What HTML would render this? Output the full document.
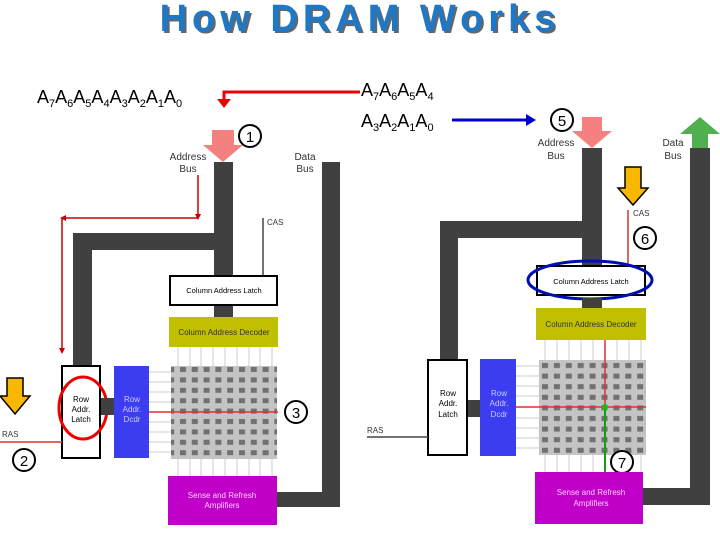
<!DOCTYPE html>
<html><head><meta charset="utf-8"><style>
body{margin:0;background:#fff;width:720px;height:540px;overflow:hidden}
svg{display:block;font-family:"Liberation Sans",sans-serif}
</style></head><body>
<svg width="720" height="540" viewBox="0 0 720 540">
<defs>
<pattern id="g" x="0" y="0" width="11.8" height="10.4" patternUnits="userSpaceOnUse">
<rect width="11.8" height="10.4" fill="#c4c4c4"/><rect x="3" y="3" width="6" height="5" fill="#707070"/>
</pattern>
<pattern id="g2" x="539" y="360" width="11.9" height="10.6" patternUnits="userSpaceOnUse">
<rect width="11.9" height="10.6" fill="#c4c4c4"/><rect x="3" y="3" width="6" height="5" fill="#707070"/>
</pattern>
</defs>
<text x="362" y="33" text-anchor="middle" font-size="38" font-weight="bold" fill="#666" letter-spacing="5">How DRAM Works</text>
<text x="360" y="31" text-anchor="middle" font-size="38" font-weight="bold" fill="#1e78c8" letter-spacing="5">How DRAM Works</text>

<text x="37" y="103" font-size="18">A<tspan font-size="11" dy="4">7</tspan><tspan dy="-4">A</tspan><tspan font-size="11" dy="4">6</tspan><tspan dy="-4">A</tspan><tspan font-size="11" dy="4">5</tspan><tspan dy="-4">A</tspan><tspan font-size="11" dy="4">4</tspan><tspan dy="-4">A</tspan><tspan font-size="11" dy="4">3</tspan><tspan dy="-4">A</tspan><tspan font-size="11" dy="4">2</tspan><tspan dy="-4">A</tspan><tspan font-size="11" dy="4">1</tspan><tspan dy="-4">A</tspan><tspan font-size="11" dy="4">0</tspan></text>
<text x="361" y="96" font-size="18">A<tspan font-size="11" dy="4">7</tspan><tspan dy="-4">A</tspan><tspan font-size="11" dy="4">6</tspan><tspan dy="-4">A</tspan><tspan font-size="11" dy="4">5</tspan><tspan dy="-4">A</tspan><tspan font-size="11" dy="4">4</tspan></text>
<text x="361" y="127" font-size="18">A<tspan font-size="11" dy="4">3</tspan><tspan dy="-4">A</tspan><tspan font-size="11" dy="4">2</tspan><tspan dy="-4">A</tspan><tspan font-size="11" dy="4">1</tspan><tspan dy="-4">A</tspan><tspan font-size="11" dy="4">0</tspan></text>

<polyline points="360,92 224,92 224,100" fill="none" stroke="#e00" stroke-width="3"/>
<polygon points="217,99 231,99 224,108" fill="#e00"/>
<line x1="452" y1="120" x2="528" y2="120" stroke="#0000cc" stroke-width="3"/>
<polygon points="526,114 536,120 526,126" fill="#0000cc"/>

<g>
<path d="M214,162 H233 V275 H214 V250 H92 V366 H73 V233 H214 Z" fill="#404040"/>
<path d="M322,162 H340 V507 H277 V492 H322 Z" fill="#404040"/>
<polygon points="212,130 234,130 234,145 243,145 223,162 203,145 212,145" fill="#f48080"/>
<circle cx="250" cy="136" r="11" fill="#fff" stroke="#000" stroke-width="2"/><text x="250" y="142" font-size="15" text-anchor="middle">1</text>
<text x="188" y="160" font-size="10" text-anchor="middle" fill="#333">Address</text><text x="188" y="172" font-size="10" text-anchor="middle" fill="#333">Bus</text>
<text x="305" y="160" font-size="10" text-anchor="middle" fill="#333">Data</text><text x="305" y="172" font-size="10" text-anchor="middle" fill="#333">Bus</text>
<polyline points="198,175 198,218 62,218 62,350" fill="none" stroke="#c00" stroke-width="1.5"/>
<polygon points="195,214 201,214 198,220" fill="#c00"/><polygon points="66,215 66,221 60,218" fill="#c00"/><polygon points="59,348 65,348 62,354" fill="#c00"/>
<line x1="263" y1="218" x2="263" y2="275" stroke="#444" stroke-width="1.5"/><text x="267" y="225" font-size="8" fill="#333">CAS</text>
<rect x="170" y="276" width="107" height="29" fill="#fff" stroke="#000" stroke-width="2"/>
<text x="224" y="293" font-size="7.5" text-anchor="middle">Column Address Latch</text>
<rect x="214" y="306" width="19" height="12" fill="#404040"/>
<rect x="169" y="317" width="109" height="30" fill="#c0c000"/>
<text x="224" y="335" font-size="8" text-anchor="middle" fill="#333">Column Address Decoder</text>
<g stroke="#ddd" stroke-width="1.5"><line x1="178" y1="347" x2="178" y2="366"/><line x1="190" y1="347" x2="190" y2="366"/><line x1="201" y1="347" x2="201" y2="366"/><line x1="213" y1="347" x2="213" y2="366"/><line x1="225" y1="347" x2="225" y2="366"/><line x1="237" y1="347" x2="237" y2="366"/><line x1="249" y1="347" x2="249" y2="366"/><line x1="260" y1="347" x2="260" y2="366"/><line x1="272" y1="347" x2="272" y2="366"/>
<line x1="178" y1="459" x2="178" y2="476"/><line x1="190" y1="459" x2="190" y2="476"/><line x1="201" y1="459" x2="201" y2="476"/><line x1="213" y1="459" x2="213" y2="476"/><line x1="225" y1="459" x2="225" y2="476"/><line x1="237" y1="459" x2="237" y2="476"/><line x1="249" y1="459" x2="249" y2="476"/><line x1="260" y1="459" x2="260" y2="476"/><line x1="272" y1="459" x2="272" y2="476"/>
<line x1="149" y1="372" x2="171" y2="372"/><line x1="149" y1="382" x2="171" y2="382"/><line x1="149" y1="392" x2="171" y2="392"/><line x1="149" y1="402" x2="171" y2="402"/><line x1="149" y1="422" x2="171" y2="422"/><line x1="149" y1="432" x2="171" y2="432"/><line x1="149" y1="442" x2="171" y2="442"/><line x1="149" y1="452" x2="171" y2="452"/></g>
<rect x="171" y="366" width="106" height="93" fill="url(#g)"/>
<rect x="62" y="366" width="38" height="92" fill="#fff" stroke="#000" stroke-width="2"/>
<text x="81" y="402" font-size="8" text-anchor="middle">Row</text><text x="81" y="412" font-size="8" text-anchor="middle">Addr.</text><text x="81" y="422" font-size="8" text-anchor="middle">Latch</text>
<ellipse cx="83" cy="408" rx="24" ry="31" fill="none" stroke="#e00" stroke-width="3"/>
<rect x="101" y="398" width="13" height="17" fill="#404040"/>
<rect x="114" y="366" width="35" height="92" fill="#3c3cf0"/>
<text x="132" y="402" font-size="8" text-anchor="middle" fill="#ccf">Row</text><text x="132" y="412" font-size="8" text-anchor="middle" fill="#ccf">Addr.</text><text x="132" y="422" font-size="8" text-anchor="middle" fill="#ccf">Dcdr</text>
<line x1="149" y1="412" x2="278" y2="412" stroke="#e03030" stroke-width="1.5"/>
<circle cx="296" cy="412" r="11" fill="#fff" stroke="#000" stroke-width="2"/><text x="296" y="418" font-size="15" text-anchor="middle">3</text>
<text x="2" y="437" font-size="8" fill="#333">RAS</text>
<line x1="0" y1="442" x2="62" y2="442" stroke="#e03030" stroke-width="1.5"/>
<circle cx="24" cy="460" r="11" fill="#fff" stroke="#000" stroke-width="2"/><text x="24" y="466" font-size="15" text-anchor="middle">2</text>
<polygon points="7,378 23,378 23,396 30,396 15,414 0,396 7,396" fill="#f8b800" stroke="#000" stroke-width="1.5"/>
<rect x="168" y="476" width="109" height="49" fill="#c000c8"/>
<text x="222" y="498" font-size="8" text-anchor="middle" fill="#fcf">Sense and Refresh</text><text x="222" y="508" font-size="8" text-anchor="middle" fill="#fcf">Amplifiers</text>
</g>

<g>
<path d="M582,148 H602 V265 H582 V238 H458 V360 H440 V221 H582 Z" fill="#404040"/>
<path d="M690,148 H710 V505 H643 V488 H690 Z" fill="#404040"/>
<polygon points="582,117 602,117 602,131 612,131 592,148 572,131 582,131" fill="#f48080"/>
<polygon points="692,148 708,148 708,134 720,134 700,117 680,134 692,134" fill="#50b050"/>
<circle cx="562" cy="120" r="11" fill="#fff" stroke="#000" stroke-width="2"/><text x="562" y="126" font-size="15" text-anchor="middle">5</text>
<text x="556" y="146" font-size="10" text-anchor="middle" fill="#333">Address</text><text x="556" y="159" font-size="10" text-anchor="middle" fill="#333">Bus</text>
<text x="673" y="146" font-size="10" text-anchor="middle" fill="#333">Data</text><text x="673" y="159" font-size="10" text-anchor="middle" fill="#333">Bus</text>
<polygon points="625,167 641,167 641,188 648,188 633,205 618,188 625,188" fill="#f8b800" stroke="#000" stroke-width="1.5"/>
<line x1="628" y1="210" x2="628" y2="264" stroke="#e03030" stroke-width="1.5"/><text x="633" y="216" font-size="8" fill="#333">CAS</text>
<circle cx="645" cy="238" r="11" fill="#fff" stroke="#000" stroke-width="2"/><text x="645" y="244" font-size="15" text-anchor="middle">6</text>
<rect x="537" y="266" width="108" height="29" fill="#fff" stroke="#000" stroke-width="2"/>
<text x="591" y="284" font-size="7.5" text-anchor="middle">Column Address Latch</text>
<ellipse cx="590" cy="280" rx="62" ry="19" fill="none" stroke="#0010b0" stroke-width="3"/>
<rect x="582" y="298" width="20" height="10" fill="#404040"/>
<rect x="536" y="308" width="110" height="32" fill="#c0c000"/>
<text x="591" y="327" font-size="8" text-anchor="middle" fill="#333">Column Address Decoder</text>
<g stroke="#ddd" stroke-width="1.5"><line x1="545" y1="340" x2="545" y2="360"/><line x1="557" y1="340" x2="557" y2="360"/><line x1="569" y1="340" x2="569" y2="360"/><line x1="581" y1="340" x2="581" y2="360"/><line x1="593" y1="340" x2="593" y2="360"/><line x1="617" y1="340" x2="617" y2="360"/><line x1="629" y1="340" x2="629" y2="360"/><line x1="641" y1="340" x2="641" y2="360"/>
<line x1="545" y1="455" x2="545" y2="472"/><line x1="557" y1="455" x2="557" y2="472"/><line x1="569" y1="455" x2="569" y2="472"/><line x1="581" y1="455" x2="581" y2="472"/><line x1="593" y1="455" x2="593" y2="472"/><line x1="617" y1="455" x2="617" y2="472"/><line x1="629" y1="455" x2="629" y2="472"/><line x1="641" y1="455" x2="641" y2="472"/>
<line x1="516" y1="366" x2="539" y2="366"/><line x1="516" y1="376" x2="539" y2="376"/><line x1="516" y1="386" x2="539" y2="386"/><line x1="516" y1="396" x2="539" y2="396"/><line x1="516" y1="418" x2="539" y2="418"/><line x1="516" y1="428" x2="539" y2="428"/><line x1="516" y1="438" x2="539" y2="438"/><line x1="516" y1="448" x2="539" y2="448"/></g>
<rect x="539" y="360" width="107" height="95" fill="url(#g2)"/>
<rect x="428" y="360" width="39" height="95" fill="#fff" stroke="#000" stroke-width="2"/>
<text x="448" y="396" font-size="8" text-anchor="middle">Row</text><text x="448" y="406" font-size="8" text-anchor="middle">Addr.</text><text x="448" y="417" font-size="8" text-anchor="middle">Latch</text>
<rect x="468" y="400" width="12" height="17" fill="#404040"/>
<rect x="480" y="359" width="36" height="97" fill="#3c3cf0"/>
<text x="499" y="396" font-size="8" text-anchor="middle" fill="#ccf">Row</text><text x="499" y="406" font-size="8" text-anchor="middle" fill="#ccf">Addr.</text><text x="499" y="417" font-size="8" text-anchor="middle" fill="#ccf">Dcdr</text>
<line x1="605" y1="340" x2="605" y2="407" stroke="#e03030" stroke-width="1.5"/>
<line x1="516" y1="407" x2="646" y2="407" stroke="#e03030" stroke-width="1.5"/>
<line x1="605" y1="407" x2="605" y2="472" stroke="#10a010" stroke-width="2"/>
<circle cx="605" cy="407" r="3" fill="#10c010"/>
<circle cx="622" cy="462" r="11" fill="#fff" stroke="#000" stroke-width="2"/><text x="622" y="468" font-size="15" text-anchor="middle">7</text>
<text x="367" y="433" font-size="8" fill="#333">RAS</text>
<line x1="367" y1="437" x2="428" y2="437" stroke="#444" stroke-width="1.5"/>
<rect x="535" y="472" width="108" height="52" fill="#c000c8"/>
<text x="591" y="495" font-size="8" text-anchor="middle" fill="#fcf">Sense and Refresh</text><text x="591" y="506" font-size="8" text-anchor="middle" fill="#fcf">Amplifiers</text>
</g>
</svg>
</body></html>
